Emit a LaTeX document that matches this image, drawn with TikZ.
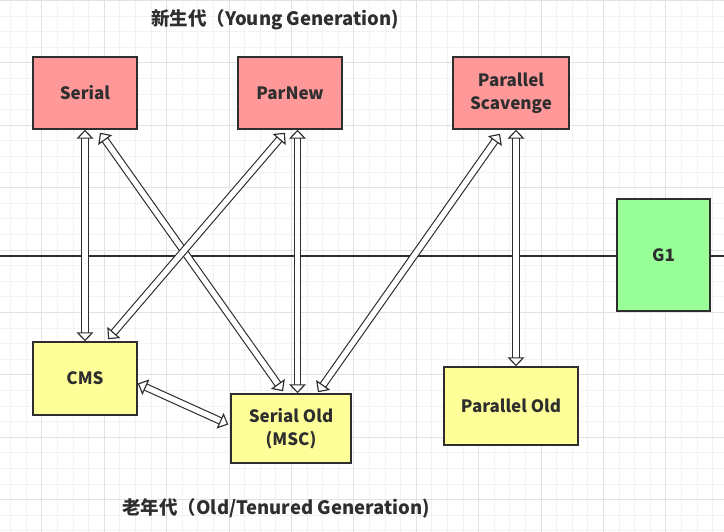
\documentclass[tikz,border=0pt]{standalone}
\usepackage{fontspec}
\setmainfont{Noto Sans CJK SC}
\usetikzlibrary{arrows.meta}
\definecolor{gminor}{HTML}{F2F2F2}
\definecolor{gmajor}{HTML}{E2E2E2}
\definecolor{youngfill}{HTML}{FF9999}
\definecolor{oldfill}{HTML}{FFFF99}
\definecolor{gfill}{HTML}{99FF99}
\definecolor{ink}{HTML}{2E2E2E}
\tikzset{
  gcbox/.style={draw=ink, line width=1.5pt, text=ink, font=\bfseries\fontsize{17}{23}\selectfont, align=center, inner sep=0pt},
  dblarrow/.style={draw=ink, line width=1.15pt, double=white, double distance=5.4pt,
     {Triangle[open,fill=white,width=17pt,length=9pt]}-{Triangle[open,fill=white,width=17pt,length=9pt]}},
  gentitle/.style={text=ink, font=\bfseries\fontsize{18.5}{22}\selectfont}
}
\begin{document}
\begin{tikzpicture}[x=1pt,y=-1pt]
\useasboundingbox (0,0) rectangle (724,532);
\fill[white] (0,0) rectangle (724,532);
% grid
\foreach \i in {0,...,46} {
  \draw[gminor, line width=0.6pt] (10.5+15.6*\i,0) -- (10.5+15.6*\i,532);
}
\foreach \j in {0,...,34} {
  \draw[gminor, line width=0.6pt] (0,0.3+15.6*\j) -- (724,0.3+15.6*\j);
}
\foreach \i in {0,...,11} {
  \draw[gmajor, line width=0.6pt] (41.7+62.4*\i,0) -- (41.7+62.4*\i,532);
}
\foreach \j in {0,...,8} {
  \draw[gmajor, line width=0.6pt] (0,0.3+62.4*\j) -- (724,0.3+62.4*\j);
}
% divider line
\coordinate (lineL) at (0,256);
\coordinate (lineR) at (724,256);
\draw[ink, line width=1.5pt] (lineL) -- (lineR);
% titles
\node[gentitle] (young) at (275,20) {新生代（Young Generation)};
\node[gentitle] (old) at (276,508) {老年代（Old/Tenured Generation)};
% boxes
\node[gcbox, fill=youngfill, minimum width=104pt, minimum height=72pt] (serial) at (85,93) {Serial};
\node[gcbox, fill=youngfill, minimum width=104pt, minimum height=72pt] (parnew) at (290,93) {ParNew};
\node[gcbox, fill=youngfill, minimum width=116pt, minimum height=72pt] (ps) at (511,93) {Parallel\\Scavenge};
\node[gcbox, fill=gfill, minimum width=93pt, minimum height=112pt] (g1) at (663.5,255) {G1};
\node[gcbox, fill=oldfill, minimum width=104pt, minimum height=73pt] (cms) at (85,378.5) {CMS};
\node[gcbox, fill=oldfill, minimum width=120pt, minimum height=69pt] (so) at (291,428.5) {Serial Old\\(MSC)};
\node[gcbox, fill=oldfill, minimum width=134pt, minimum height=78pt] (po) at (511,406) {Parallel Old};
% arrows
\draw[dblarrow] (serial.south) -- (cms.north);
\draw[dblarrow] ([xshift=15pt,yshift=-3pt]serial.south) -- ([xshift=-8pt,yshift=2pt]so.north);
\draw[dblarrow] ([xshift=-5pt,yshift=-3pt]parnew.south) -- ([xshift=23pt,yshift=2pt]cms.north);
\draw[dblarrow] ([xshift=7.5pt]parnew.south) -- ([xshift=6.5pt]so.north);
\draw[dblarrow] ([xshift=-11pt,yshift=-4pt]ps.south) -- ([xshift=27pt,yshift=1pt]so.north);
\draw[dblarrow] ([xshift=5pt]ps.south) -- ([xshift=5pt]po.north);
\draw[dblarrow] ([yshift=-5pt]cms.east) -- ([xshift=-2pt,yshift=4pt]so.west);
\end{tikzpicture}
\end{document}
